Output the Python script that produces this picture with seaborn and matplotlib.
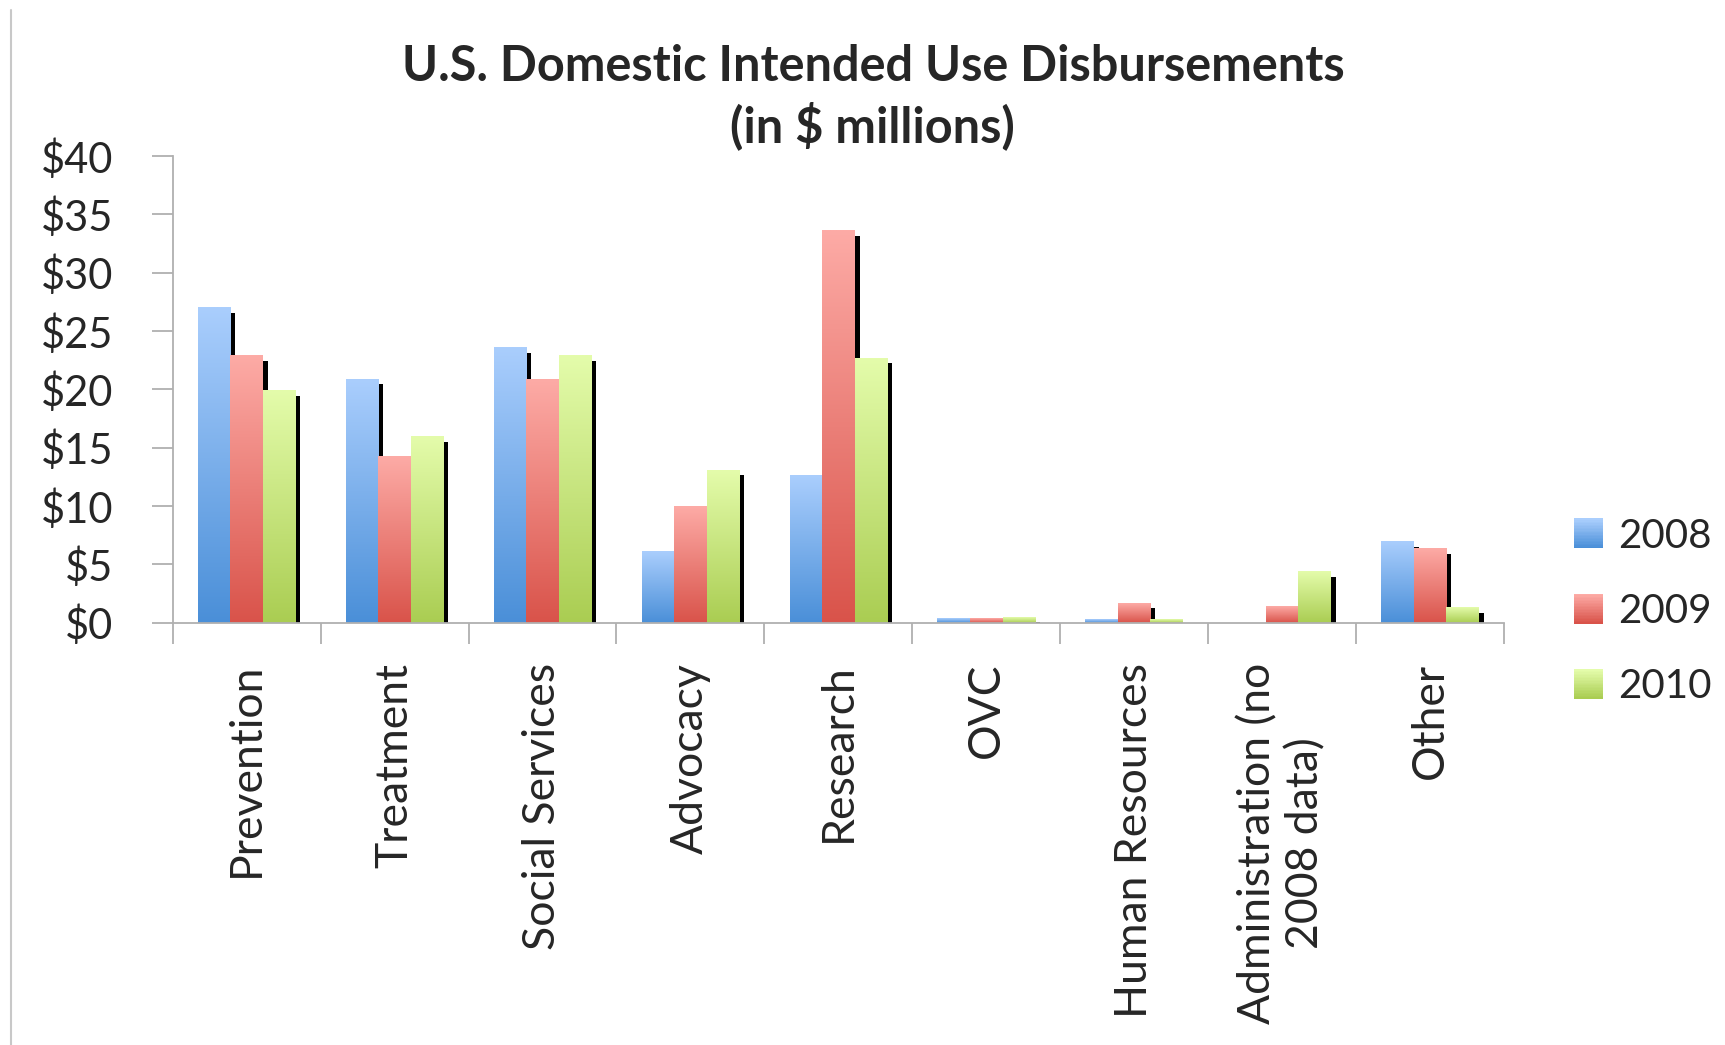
import numpy as np
import pandas as pd
import matplotlib
matplotlib.use("Agg")
import matplotlib.pyplot as plt
import seaborn as sns
from matplotlib.colors import LinearSegmentedColormap
from matplotlib.patches import Rectangle
from matplotlib.legend_handler import HandlerBase

categories = ['Prevention', 'Treatment', 'Social Services', 'Advocacy', 'Research',
              'OVC', 'Human Resources', 'Administration (no\n2008 data)', 'Other']
years = ['2008', '2009', '2010']
values_2008 = [27.0, 20.9, 23.6, 6.1, 12.6, 0.4, 0.3, 0.0, 7.0]
values_2009 = [22.9, 14.3, 20.9, 10.0, 33.6, 0.4, 1.7, 1.4, 6.4]
values_2010 = [19.9, 16.0, 22.9, 13.1, 22.7, 0.5, 0.3, 4.4, 1.3]
y_ticks = [0, 5, 10, 15, 20, 25, 30, 35, 40]

# dark bottom, light top
grad = {
    '2008': ('#4a8fd8', '#aacefd'),
    '2009': ('#d9534a', '#fdaba6'),
    '2010': ('#aacd52', '#e4fcab'),
}

df = pd.DataFrame({
    'category': categories * 3,
    'year': sum([[y] * len(categories) for y in years], []),
    'value': values_2008 + values_2009 + values_2010,
})

sns.set_style('white')
plt.rcParams['font.family'] = ['Lato', 'DejaVu Sans']

fig = plt.figure(figsize=(17.25, 10.45), dpi=100)
ax = fig.add_axes([0.1001, 0.4041, 0.7718, 0.4466])

sns.barplot(data=df, x='category', y='value', hue='year', order=categories,
            hue_order=years, palette=[grad[y][0] for y in years],
            width=0.66, ax=ax, legend=False, errorbar=None)

# px -> data units for the drop shadow
dx = 5.0 / 148.0
dy = 5.5 / 11.7

bars = [p for p in ax.patches if isinstance(p, Rectangle)]
for i, p in enumerate(bars):
    year = years[i // len(categories)]
    x, w, h = p.get_x(), p.get_width(), p.get_height()
    p.set_visible(False)
    if h <= 0:
        continue
    sh = max(h - dy, 0)
    if sh > 0:
        ax.add_patch(Rectangle((x + dx, 0), w, sh, facecolor='black',
                               edgecolor='none', zorder=1))
    cmap = LinearSegmentedColormap.from_list(year, list(grad[year]))
    g = np.linspace(0, 1, 256).reshape(-1, 1)
    ax.imshow(g, cmap=cmap, extent=[x, x + w, 0, h], origin='lower',
              aspect='auto', zorder=2, interpolation='bilinear')

ax.set_ylim(0, 40)
ax.set_xlim(-0.5, len(categories) - 0.5)

ax.set_yticks(y_ticks)
ax.set_yticklabels([f'${t}' for t in y_ticks])
ax.set_xticks(np.arange(len(categories) + 1) - 0.5)
ax.set_xticklabels([])
ax.set_xticks(np.arange(len(categories)), minor=True)
ax.set_xticklabels(categories, minor=True, rotation=90, fontsize=32,
                   multialignment='center', va='top')
ax.tick_params(axis='x', which='minor', length=0, pad=29)
ax.tick_params(axis='x', which='major', length=15, color='#b0b0b0', width=1.3,
               direction='out', bottom=True)
ax.tick_params(axis='y', length=15, color='#b0b0b0', width=1.3, direction='out',
               labelsize=30, pad=28, left=True)
ax.set_xlabel('')
ax.set_ylabel('')
for s in ['top', 'right']:
    ax.spines[s].set_visible(False)
for s in ['left', 'bottom']:
    ax.spines[s].set_color('#b0b0b0')
    ax.spines[s].set_linewidth(1.3)


class GradHandler(HandlerBase):
    def create_artists(self, legend, orig_handle, xdescent, ydescent,
                       width, height, fontsize, trans):
        lo, hi = grad[orig_handle.get_label()]
        cmap = LinearSegmentedColormap.from_list('l', [lo, hi])
        side = height * 1.05
        x0 = -xdescent + (width - side) / 2
        y0 = -ydescent + (height - side) / 2
        n = 20
        arts = []
        for k in range(n):
            r = Rectangle((x0, y0 + side * k / n), side, side / n + 0.3,
                          facecolor=cmap(k / (n - 1)), edgecolor='none',
                          transform=trans)
            arts.append(r)
        return arts


handles = [Rectangle((0, 0), 1, 1, label=y) for y in years]
leg = fig.legend(handles=handles, labels=years, loc='center left',
                 bbox_to_anchor=(0.89, 0.415), frameon=False, fontsize=29,
                 handler_map={Rectangle: GradHandler()}, handlelength=0.85,
                 handletextpad=0.3, labelspacing=0.95)

fig.text(0.506, 0.958, 'U.S. Domestic Intended Use Disbursements\n(in $ millions)',
         ha='center', va='top', fontsize=35, fontweight='bold', linespacing=1.3)

fig.add_artist(plt.Line2D([0.0065, 0.0065], [0.0, 0.99], color='#c8c8c8',
                          linewidth=1.5, transform=fig.transFigure))

fig.savefig('out.png', dpi=100)
